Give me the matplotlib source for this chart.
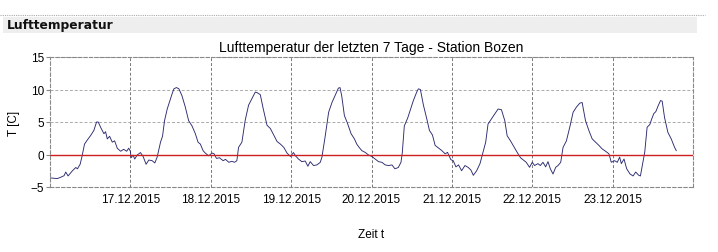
import numpy as np
import pandas as pd
import matplotlib
matplotlib.use("Agg")
import matplotlib.pyplot as plt
from matplotlib.patches import Rectangle
from matplotlib.lines import Line2D

# Data: hours after 16.12.2015 00:00 and air temperature
hours = [0, 1.0, 2.2, 3.2, 4.2, 4.7, 5.4, 6.7, 7.7, 8.2, 9.0, 9.6, 10.3, 11.1, 12.1, 13.1,
         13.9, 14.4, 15.1, 16.1, 16.6, 17.1, 17.8, 18.6, 19.3, 20.1, 21.1, 22.0, 22.9, 23.5,
         24.0, 24.2, 24.8, 25.3, 26.0, 27.0, 27.8, 28.7, 29.5, 30.5, 31.3, 32.0, 33.0, 33.6,
         34.2, 35.0, 35.8, 36.5, 37.0, 37.75, 38.5, 39.4, 40.4, 41.4, 42.4, 43.4, 44.2, 44.9,
         45.7, 46.4, 47.4, 48.4, 49.0, 49.7, 50.6, 51.7, 52.4, 53.4, 54.3, 55.1, 55.8, 56.3,
         57.3, 58.3, 59.3, 60.3, 61.3, 61.9, 62.8, 63.6, 64.8, 65.8, 66.8, 67.8, 68.8, 69.8,
         70.8, 71.8, 72.7, 73.3, 74.2, 75.2, 76.2, 77.0, 77.7, 78.7, 79.7, 80.7, 81.2, 82.2,
         83.2, 84.2, 85.1, 86.1, 86.6, 87.1, 87.9, 88.9, 89.9, 90.9, 91.6, 92.3, 93.1, 94.1,
         95.1, 96.1, 97.1, 98.1, 99.1, 100.1, 101.1, 102.1, 103.0, 104.0, 104.8, 105.2, 105.8,
         106.8, 107.5, 108.5, 109.5, 110.0, 110.6, 111.5, 112.5, 113.3, 114.2, 115.0, 116.0,
         117.0, 118.0, 118.7, 119.7, 120.4, 121.2, 122.0, 122.9, 123.9, 124.9, 125.7, 126.4,
         127.4, 128.4, 129.3, 130.1, 130.8, 131.8, 132.8, 133.8, 134.8, 135.8, 136.5, 137.5,
         138.5, 139.5, 140.5, 141.5, 142.2, 143.2, 144.0, 144.7, 145.7, 146.4, 147.2, 148.0,
         148.7, 149.4, 150.2, 151.0, 151.7, 152.5, 153.2, 154.2, 155.2, 156.2, 157.2, 158.2,
         158.9, 159.9, 160.9, 161.9, 162.9, 163.9, 164.9, 165.9, 166.9, 167.6, 168.6, 169.4,
         170.1, 170.6, 171.4, 172.2, 173.2, 174.1, 174.9, 175.8, 176.3, 176.9, 177.6, 178.3,
         179.1, 179.7, 180.3, 180.9, 181.6, 182.3, 182.8, 183.5, 184.5, 185.5, 186.5, 187.0]
temps = [-3.6, -3.65, -3.7, -3.5, -3.26, -2.7, -3.3, -2.5, -2.0, -2.2, -1.5, -0.2, 1.6, 2.2, 2.9, 3.7,
         5.0, 5.0, 4.2, 3.2, 3.5, 2.4, 2.8, 1.9, 2.1, 0.95, 0.5, 0.8, 0.5, 0.97,
         0.5, -0.5, -0.1, -0.7, -0.1, 0.3, -0.3, -1.5, -0.85, -0.95, -1.3, -0.4, 1.9, 2.8,
         5.2, 7.0, 8.3, 9.4, 10.1, 10.3, 10.1, 9.05, 7.3, 5.2, 4.4, 3.2, 1.9, 1.6,
         0.6, 0.2, -0.2, 0.23, 0.1, -0.6, -0.5, -0.95, -0.75, -1.2, -1.05, -1.2, -0.95, 1.1,
         1.9, 5.3, 7.6, 8.6, 9.6, 9.5, 9.2, 7.2, 4.5, 4.0, 3.0, 2.0, 1.6, 1.1,
         0.2, -0.3, 0.3, -0.2, -0.7, -1.1, -1.0, -1.8, -1.1, -1.7, -1.6, -1.2, -0.4, 2.9,
         6.5, 8.0, 9.05, 10.2, 10.3, 9.05, 6.0, 4.7, 3.2, 2.4, 1.6, 1.1, 0.6, 0.33,
         -0.07, -0.3, -0.7, -1.1, -1.2, -1.6, -1.7, -1.6, -2.2, -2.0, -1.2, 0.3, 4.4,
         5.6, 6.7, 8.3, 9.6, 10.1, 10.0, 7.6, 5.5, 3.7, 3.0, 1.4, 1.0,
         0.6, 0.1, 0.33, -0.8, -0.95, -1.9, -1.6, -2.5, -1.7, -2.0, -2.4, -3.2,
         -2.5, -1.4, 0.33, 1.9, 4.7, 5.46, 6.2, 7.0, 6.9, 5.2, 2.9, 2.1,
         1.2, 0.33, -0.5, -0.9, -1.2, -1.97, -1.2, -1.7, -1.4, -1.7, -1.2, -1.9,
         -1.1, -2.2, -3.0, -1.97, -1.7, -1.2, 1.1, 2.1, 4.2, 6.5, 7.3, 7.9,
         8.0, 5.2, 3.7, 2.4, 1.9, 1.4, 0.85, 0.5, 0.1, -1.2, -0.95, -1.2,
         -0.4, -1.4, -0.7, -2.2, -3.0, -3.3, -2.7, -3.2, -3.3, -1.6, 0.4, 4.2,
         4.6, 5.5, 6.3, 6.6, 7.5, 8.3, 8.2, 5.7, 3.4, 2.4, 1.1, 0.6]
start = pd.Timestamp("2015-12-16 00:00")
days = pd.date_range("2015-12-17", "2015-12-23", freq="D")
day_labels = [d.strftime("%d.%m.%Y") for d in days]
y_ticks = [-5, 0, 5, 10, 15]

times = start + pd.to_timedelta(hours, unit="h")

fig = plt.figure(figsize=(7.18, 2.53), dpi=100)
plt.rcParams["font.family"] = ["Liberation Sans", "DejaVu Sans"]

# header bar
fig.add_artist(Line2D([0, 705 / 718], [1 - 15.5 / 253] * 2, transform=fig.transFigure,
                      color="#aaaaaa", lw=0.8, ls=(0, (1, 1))))
fig.add_artist(Rectangle((3 / 718, 1 - 34 / 253), 694 / 718, 16 / 253,
                         transform=fig.transFigure, color="#eeeeee", lw=0))
fig.text(7 / 718, 1 - 25.5 / 253, "Lufttemperatur", fontsize=8.8, fontweight="bold",
         family="DejaVu Sans", va="center", ha="left", color="#111111")

ax = fig.add_axes([50 / 718, 65 / 253, 643 / 718, 130 / 253])
ax.plot(times, temps, color="#2a2a70", lw=0.65)
ax.axhline(0, color="#cc1f1f", lw=1.0)

ax.set_xlim(pd.Timestamp("2015-12-16 00:00"), pd.Timestamp("2015-12-24 00:00"))
ax.set_ylim(-5, 15)
ax.set_xticks(days)
ax.set_xticklabels(day_labels)
ax.set_yticks(y_ticks)

ax.grid(axis="x", color="#777777", ls=(0, (3, 2)), lw=0.7)
ax.grid(axis="y", color="#aaaaaa", ls=(0, (3, 2)), lw=0.7)
for s in ax.spines.values():
    s.set_color("#888888")
    s.set_linestyle((0, (3, 2)))
    s.set_linewidth(0.8)

ax.tick_params(axis="x", length=0, labelsize=8.5, pad=4)
ax.tick_params(axis="y", length=3, labelsize=8.5, pad=1, color="#888888")

ax.set_title("Lufttemperatur der letzten 7 Tage - Station Bozen", fontsize=10, pad=4)
ax.set_xlabel("Zeit t", fontsize=8.5, labelpad=17)
ax.set_ylabel("T [C]", fontsize=8.5, labelpad=8)

fig.savefig("out.png", dpi=100)
